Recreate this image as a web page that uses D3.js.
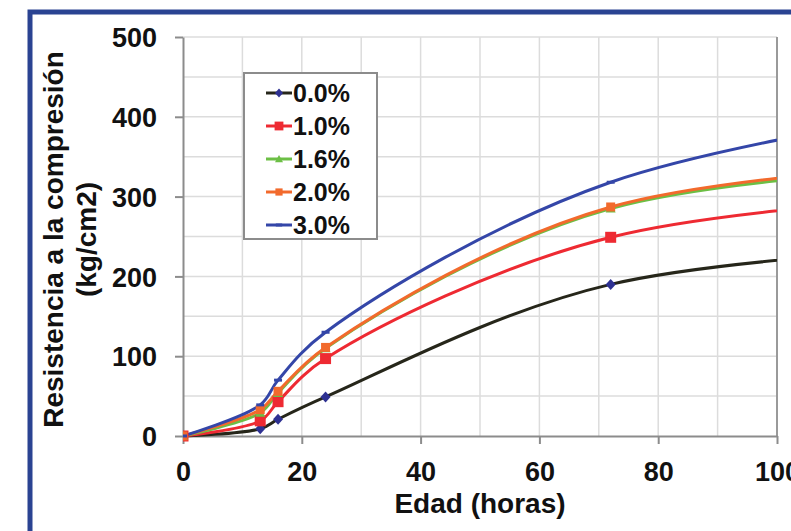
<!DOCTYPE html>
<html><head><meta charset="utf-8">
<script src="https://cdn.jsdelivr.net/npm/d3@7/dist/d3.min.js"></script>
<style>
html,body{margin:0;padding:0;background:#fff;}
svg{display:block;font-family:"Liberation Sans",Arial,sans-serif;font-weight:bold;}
</style></head>
<body>
<svg id="chart" width="791" height="531"></svg>
<script>
// ---- data ----
const ages = [0, 13, 16, 24, 72, 168];
const s00 = [0, 9, 21, 49, 190, 250];
const s10 = [0, 19, 43, 97, 249, 317];
const s16 = [0, 29, 54, 110, 285, 350];
const s20 = [0, 33, 56, 111, 287, 357];
const s30 = [0, 39, 70, 130, 318, 453];
const seriesNames = ["0.0%", "1.0%", "1.6%", "2.0%", "3.0%"];
const xTicks = [0, 20, 40, 60, 80, 100];
const yTicks = [0, 100, 200, 300, 400, 500];
const xTitle = "Edad (horas)";
const yTitle1 = "Resistencia a la compresión";
const yTitle2 = "(kg/cm2)";

const styles = [
  {line:"#26261a", marker:"diamond", mcol:"#2e3192", size:10},
  {line:"#ee2a32", marker:"square", mcol:"#ee2a32", size:11},
  {line:"#6cbf45", marker:"triangle", mcol:"#6cbf45", size:10},
  {line:"#f26a2c", marker:"square", mcol:"#f26a2c", size:9},
  {line:"#3446a8", marker:"dash", mcol:"#3446a8", size:8}
];
const allSeries = [s00, s10, s16, s20, s30];

const svg = d3.select("#chart");
const L = 183, R = 777, T = 37, B = 436;
const x = d3.scaleLinear().domain([0, 100]).range([L, R]);
const y = d3.scaleLinear().domain([0, 500]).range([B, T]);

// blue frame
svg.append("path").attr("d", `M30,531 V12 H791`).attr("fill","none")
  .attr("stroke","#2a4392").attr("stroke-width",5);

// grid
const g = svg.append("g");
g.selectAll(".vg").data(d3.range(10, 100, 10)).join("line")
  .attr("x1", d=>x(d)).attr("x2", d=>x(d)).attr("y1", T).attr("y2", B)
  .attr("stroke","#dcdcdc").attr("stroke-width",1.5);
g.selectAll(".hg").data(d3.range(50, 501, 50)).join("line")
  .attr("x1", L).attr("x2", R).attr("y1", d=>y(d)).attr("y2", d=>y(d))
  .attr("stroke","#dcdcdc").attr("stroke-width",1.5);
// right border
svg.append("line").attr("x1",R).attr("x2",R).attr("y1",T).attr("y2",B)
  .attr("stroke","#9a9a9a").attr("stroke-width",2);

// axes
const xAxis = svg.append("g").attr("transform",`translate(0,${B})`)
  .call(d3.axisBottom(x).tickValues(xTicks).tickSize(8).tickPadding(18).tickSizeOuter(0));
const yAxis = svg.append("g").attr("transform",`translate(${L},0)`)
  .call(d3.axisLeft(y).tickValues(yTicks).tickSize(8).tickPadding(18).tickSizeOuter(0));
[xAxis, yAxis].forEach(a=>{
  a.select(".domain").attr("stroke","#8c8c8c").attr("stroke-width",2);
  a.selectAll(".tick line").attr("stroke","#8c8c8c").attr("stroke-width",2);
  a.selectAll("text").attr("fill","#111").style("font-size","27px").style("font-weight","bold")
   .style("font-family","'Liberation Sans',Arial,sans-serif");
});
xAxis.selectAll("text").attr("dy","0.71em");
yAxis.selectAll("text").attr("dy","0.36em");

// clip
svg.append("clipPath").attr("id","clip").append("rect")
  .attr("x", L).attr("y", T-10).attr("width", R-L).attr("height", B-T+20);

const line = d3.line().x(d=>x(d[0])).y(d=>y(d[1])).curve(d3.curveCatmullRom.alpha(0.5));
const plot = svg.append("g").attr("clip-path","url(#clip)");

function markerPath(type, s){
  const h = s/2;
  if(type==="diamond") return `M0,${-h*1.1}L${h},0L0,${h*1.1}L${-h},0Z`;
  if(type==="square") return `M${-h},${-h}H${h}V${h}H${-h}Z`;
  if(type==="triangle") return `M0,${-h}L${h},${h*0.8}L${-h},${h*0.8}Z`;
  return `M${-h},-1.5H${h}V1.5H${-h}Z`;
}

allSeries.forEach((vals, i)=>{
  const pts = ages.map((a, j)=>[a, vals[j]]);
  plot.append("path").datum(pts).attr("d", line).attr("fill","none")
    .attr("stroke", styles[i].line).attr("stroke-width",3);
});
allSeries.forEach((vals, i)=>{
  const pts = ages.map((a, j)=>[a, vals[j]]).filter(p=>p[0] <= 100);
  plot.selectAll(null).data(pts).join("path")
    .attr("transform", d=>`translate(${x(d[0])},${y(d[1])})`)
    .attr("d", markerPath(styles[i].marker, styles[i].size))
    .attr("fill", styles[i].mcol);
});

// legend
const lg = svg.append("g");
lg.append("rect").attr("x",244).attr("y",73).attr("width",133).attr("height",166)
  .attr("fill","#fff").attr("stroke","#8c8c8c").attr("stroke-width",2);
seriesNames.forEach((n, i)=>{
  const cy = 93 + i*33;
  lg.append("line").attr("x1",266).attr("x2",292).attr("y1",cy).attr("y2",cy)
    .attr("stroke", styles[i].line).attr("stroke-width",3);
  lg.append("path").attr("transform",`translate(279,${cy})`)
    .attr("d", markerPath(styles[i].marker, styles[i].size*0.8)).attr("fill", styles[i].mcol);
  lg.append("text").attr("x",293).attr("y",cy).attr("dy","0.36em")
    .style("font-size","25px").attr("fill","#111").text(n);
});

// titles
svg.append("text").attr("x", (L+R)/2).attr("y", 513).attr("text-anchor","middle")
  .style("font-size","28px").attr("fill","#111").text(xTitle);
const yt = svg.append("text").attr("transform",`translate(63,${(T+B)/2+3}) rotate(-90)`)
  .attr("text-anchor","middle").style("font-size","28px").attr("fill","#111");
yt.append("tspan").attr("x",0).attr("y",0).text(yTitle1);
yt.append("tspan").attr("x",0).attr("y",33).text(yTitle2);
</script>
</body></html>
